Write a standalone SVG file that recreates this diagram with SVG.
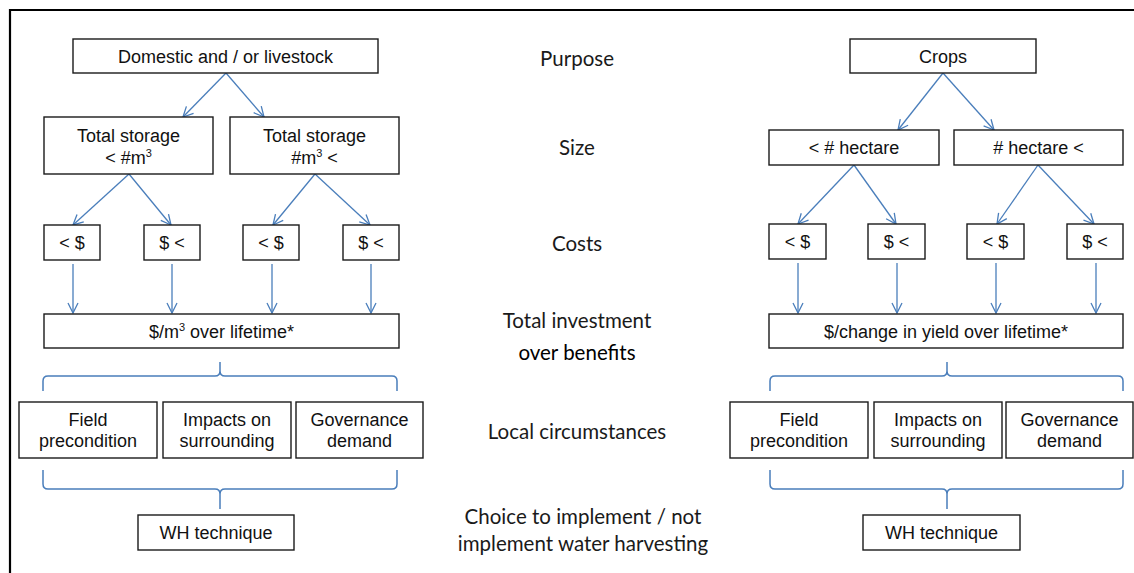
<svg xmlns="http://www.w3.org/2000/svg" width="1134" height="573" viewBox="0 0 1134 573">
<style>
.box{fill:#fff;stroke:#1a1a1a;stroke-width:1.4}
.t{font-family:"Liberation Sans",Arial,sans-serif;font-size:18px;fill:#111;text-anchor:middle}
.lbl{font-family:Lato,"Open Sans",sans-serif;font-size:20.5px;fill:#1a1a1a;text-anchor:middle}
.arr{stroke:#4a7ebb;stroke-width:1.3;fill:none;marker-end:url(#ah)}
.brace{stroke:#4a7ebb;stroke-width:1.5;fill:none}
</style>
<defs>
<marker id="ah" viewBox="0 0 12 12" refX="11" refY="6" markerWidth="12" markerHeight="12" markerUnits="userSpaceOnUse" orient="auto">
<path d="M1,1 L11,6 L1,11" fill="none" stroke="#4a7ebb" stroke-width="1.3"/>
</marker>
</defs>
<rect width="1134" height="573" fill="#fff"/>
<path d="M10,573 V10 H1134" fill="none" stroke="#000" stroke-width="2.2"/>

<g id="labels">
<text class="lbl" x="577" y="66">Purpose</text>
<text class="lbl" x="577" y="155">Size</text>
<text class="lbl" x="577" y="251">Costs</text>
<text class="lbl" x="577" y="328">Total investment</text>
<text class="lbl" x="577" y="360" style="fill:#000">over benefits</text>
<text class="lbl" x="577" y="439">Local circumstances</text>
<text class="lbl" x="583" y="524">Choice to implement / not</text>
<text class="lbl" x="583" y="551">implement water harvesting</text>
</g>

<g id="connectors">
<line class="arr" x1="226" y1="73" x2="183" y2="117"/>
<line class="arr" x1="226" y1="73" x2="264" y2="117"/>
<line class="arr" x1="129" y1="174" x2="73" y2="225"/>
<line class="arr" x1="129" y1="174" x2="171" y2="225"/>
<line class="arr" x1="315" y1="174" x2="273" y2="225"/>
<line class="arr" x1="315" y1="174" x2="370" y2="225"/>
<line class="arr" x1="73" y1="264" x2="73" y2="313"/>
<line class="arr" x1="172" y1="264" x2="172" y2="313"/>
<line class="arr" x1="272" y1="264" x2="272" y2="313"/>
<line class="arr" x1="371" y1="264" x2="371" y2="313"/>
<line class="arr" x1="943" y1="73" x2="898" y2="130"/>
<line class="arr" x1="943" y1="73" x2="994" y2="130"/>
<line class="arr" x1="854" y1="165" x2="798" y2="224"/>
<line class="arr" x1="854" y1="165" x2="896" y2="224"/>
<line class="arr" x1="1038" y1="165" x2="997" y2="224"/>
<line class="arr" x1="1038" y1="165" x2="1094" y2="224"/>
<line class="arr" x1="798" y1="263" x2="798" y2="313"/>
<line class="arr" x1="897" y1="263" x2="897" y2="313"/>
<line class="arr" x1="996" y1="263" x2="996" y2="313"/>
<line class="arr" x1="1096" y1="263" x2="1096" y2="313"/>
<path class="brace" d="M43,391 V381 Q43,376 48,376 H215 Q220,376 220,371 V362 M220,362 V371 Q220,376 225,376 H392 Q397,376 397,381 V391"/>
<path class="brace" d="M43,470 V484 Q43,489 48,489 H215 Q220,489 220,494 V509 M220,509 V494 Q220,489 225,489 H392 Q397,489 397,484 V470"/>
<path class="brace" d="M770,391 V381 Q770,376 775,376 H942 Q947,376 947,371 V362 M947,362 V371 Q947,376 952,376 H1118 Q1123,376 1123,381 V391"/>
<path class="brace" d="M770,470 V484 Q770,489 775,489 H942 Q947,489 947,494 V509 M947,509 V494 Q947,489 952,489 H1118 Q1123,489 1123,484 V470"/>
</g>

<g id="n-domestic"><rect class="box" x="73" y="39" width="305" height="34"/><text class="t" x="225.5" y="63">Domestic and / or livestock</text></g>
<g id="n-storage-lt"><rect class="box" x="44" y="117" width="169" height="57"/><text class="t" x="128.5" y="142">Total storage</text><text class="t" x="128.5" y="164">&lt; #m<tspan font-size="11" dy="-7">3</tspan></text></g>
<g id="n-storage-gt"><rect class="box" x="230" y="117" width="169" height="57"/><text class="t" x="314.5" y="142">Total storage</text><text class="t" x="314.5" y="164">#m<tspan font-size="11" dy="-7">3</tspan><tspan dy="7"> &lt;</tspan></text></g>
<g id="n-cost-l1"><rect class="box" x="44" y="225" width="56" height="35"/><text class="t" x="72" y="249">&lt; $</text></g>
<g id="n-cost-l2"><rect class="box" x="144" y="225" width="56" height="35"/><text class="t" x="172" y="249">$ &lt;</text></g>
<g id="n-cost-l3"><rect class="box" x="243" y="225" width="56" height="35"/><text class="t" x="271" y="249">&lt; $</text></g>
<g id="n-cost-l4"><rect class="box" x="343" y="225" width="56" height="35"/><text class="t" x="371" y="249">$ &lt;</text></g>
<g id="n-lifetime-l"><rect class="box" x="44" y="314" width="355" height="34"/><text class="t" x="221.5" y="338">$/m<tspan font-size="11" dy="-7">3</tspan><tspan dy="7"> over lifetime*</tspan></text></g>
<g id="n-field-l"><rect class="box" x="19" y="402" width="138" height="56"/><text class="t" x="88" y="426">Field</text><text class="t" x="88" y="447">precondition</text></g>
<g id="n-impacts-l"><rect class="box" x="163" y="402" width="128" height="56"/><text class="t" x="227" y="426">Impacts on</text><text class="t" x="227" y="447">surrounding</text></g>
<g id="n-gov-l"><rect class="box" x="296" y="402" width="127" height="56"/><text class="t" x="359.5" y="426">Governance</text><text class="t" x="359.5" y="447">demand</text></g>
<g id="n-wh-l"><rect class="box" x="138" y="515" width="156" height="35"/><text class="t" x="216" y="539">WH technique</text></g>

<g id="n-crops"><rect class="box" x="850" y="39" width="186" height="34"/><text class="t" x="943" y="63">Crops</text></g>
<g id="n-hect-lt"><rect class="box" x="769" y="130" width="170" height="35"/><text class="t" x="854" y="154">&lt; # hectare</text></g>
<g id="n-hect-gt"><rect class="box" x="954" y="130" width="169" height="35"/><text class="t" x="1038.5" y="154">#  hectare &lt;</text></g>
<g id="n-cost-r1"><rect class="box" x="769" y="224" width="57" height="35"/><text class="t" x="797.5" y="248">&lt; $</text></g>
<g id="n-cost-r2"><rect class="box" x="868" y="224" width="57" height="35"/><text class="t" x="896.5" y="248">$ &lt;</text></g>
<g id="n-cost-r3"><rect class="box" x="967" y="224" width="57" height="35"/><text class="t" x="995.5" y="248">&lt; $</text></g>
<g id="n-cost-r4"><rect class="box" x="1067" y="224" width="56" height="35"/><text class="t" x="1095" y="248">$ &lt;</text></g>
<g id="n-lifetime-r"><rect class="box" x="769" y="314" width="354" height="34"/><text class="t" x="946" y="338">$/change in yield over lifetime*</text></g>
<g id="n-field-r"><rect class="box" x="730" y="402" width="138" height="56"/><text class="t" x="799" y="426">Field</text><text class="t" x="799" y="447">precondition</text></g>
<g id="n-impacts-r"><rect class="box" x="874" y="402" width="128" height="56"/><text class="t" x="938" y="426">Impacts on</text><text class="t" x="938" y="447">surrounding</text></g>
<g id="n-gov-r"><rect class="box" x="1006" y="402" width="127" height="56"/><text class="t" x="1069.5" y="426">Governance</text><text class="t" x="1069.5" y="447">demand</text></g>
<g id="n-wh-r"><rect class="box" x="863" y="515" width="157" height="35"/><text class="t" x="941.5" y="539">WH technique</text></g>
</svg>
